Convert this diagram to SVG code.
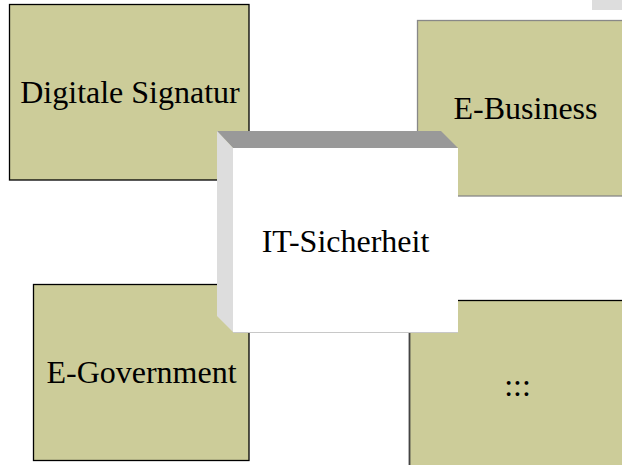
<svg xmlns="http://www.w3.org/2000/svg" width="622" height="465" viewBox="0 0 622 465">
<style>
.box{fill:#cccc99;stroke-width:1.3}
.lbl{font-family:"Liberation Serif","Times New Roman",serif;font-size:32px;fill:#000;text-anchor:middle}
</style>
<rect x="0" y="0" width="622" height="465" fill="#ffffff"/>
<rect x="592" y="0" width="30" height="10" fill="#dddddd"/>
<g id="node-digitale-signatur">
<rect class="box" x="9.5" y="4.5" width="239.5" height="175.5" stroke="#000"/>
<text class="lbl" x="130" y="103">Digitale Signatur</text>
</g>
<g id="node-e-business">
<rect class="box" x="417.5" y="20.5" width="210" height="175.5" stroke="#888"/>
<text class="lbl" x="525.5" y="119">E-Business</text>
</g>
<g id="node-e-government">
<rect class="box" x="33.5" y="284.5" width="215.5" height="176" stroke="#000"/>
<text class="lbl" x="141.5" y="383">E-Government</text>
</g>
<g id="node-more">
<rect class="box" x="409.5" y="300.5" width="220" height="170" stroke="#000"/>
<line x1="409.5" y1="300" x2="409.5" y2="465" stroke="#444" stroke-width="1.5"/>
<text class="lbl" x="517.5" y="396">:::</text>
</g>
<g id="connectors"></g>
<g id="node-it-sicherheit">
<polygon points="217,131 441,131 458,148 233,148" fill="#999999"/>
<polygon points="217,131 233,148 233,332 217,316" fill="#dddddd"/>
<rect x="233" y="148" width="225" height="184" fill="#ffffff"/>
<line x1="233" y1="332.5" x2="458" y2="332.5" stroke="#c8c8c8" stroke-width="1"/>
<text class="lbl" x="345.5" y="252">IT-Sicherheit</text>
</g>
</svg>
